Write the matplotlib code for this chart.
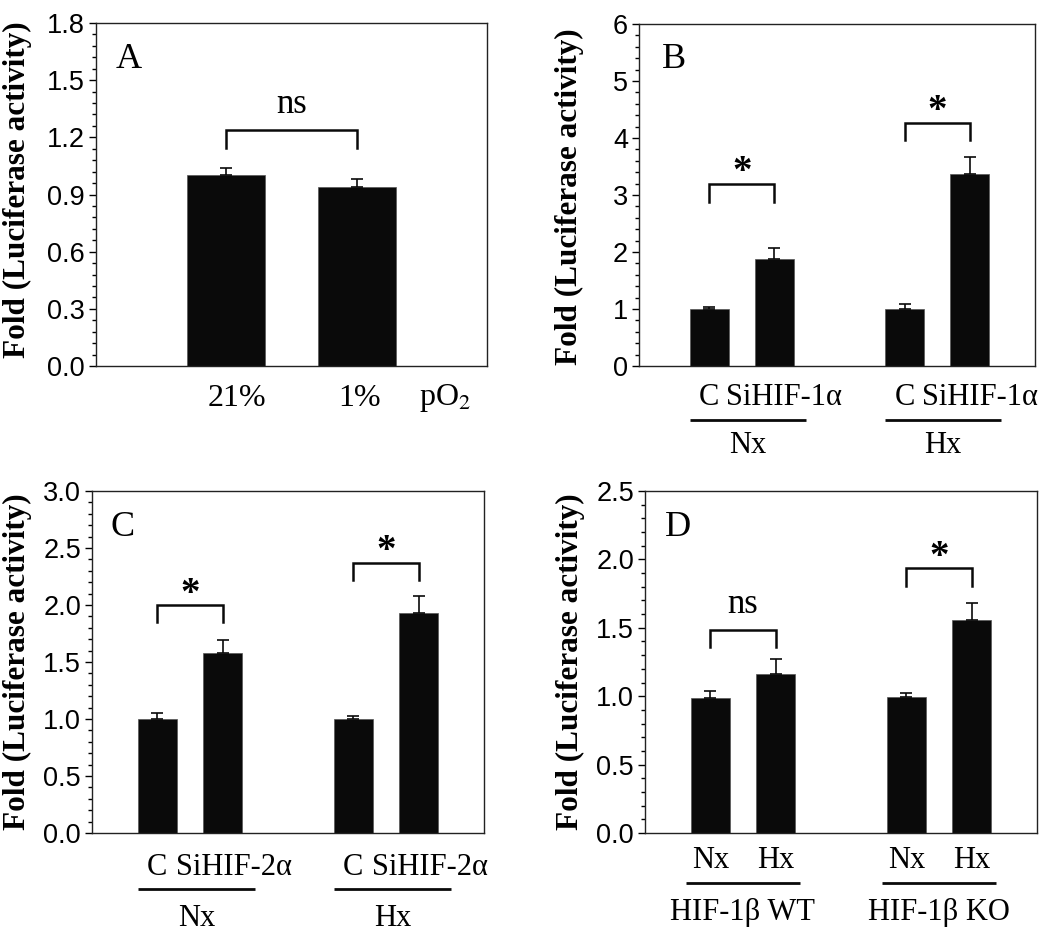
import matplotlib
matplotlib.use("Agg")
import matplotlib.pyplot as plt
from matplotlib.ticker import MultipleLocator

plt.rcParams['mathtext.fontset'] = 'stix'

# ---------------- data ----------------
a_labels = ["21%", "1%"]
a_vals = [1.00, 0.94]
a_err = [0.037, 0.04]

b_vals = [1.00, 1.88, 1.00, 3.36]
b_err = [0.04, 0.19, 0.08, 0.31]
b_tick = ["C", "SiHIF-1α", "C", "SiHIF-1α"]
b_groups = ["Nx", "Hx"]

c_vals = [1.00, 1.58, 1.00, 1.93]
c_err = [0.057, 0.11, 0.03, 0.15]
c_tick = ["C", "SiHIF-2α", "C", "SiHIF-2α"]
c_groups = ["Nx", "Hx"]

d_vals = [0.99, 1.163, 0.995, 1.557]
d_err = [0.05, 0.107, 0.031, 0.126]
d_tick = ["Nx", "Hx", "Nx", "Hx"]
d_groups = ["HIF-1β WT", "HIF-1β KO"]

# significance brackets: (left bar idx, right bar idx, bracket y, leg bottom y, label)
a_sig = [(0, 1, 1.24, 1.145, "ns")]
b_sig = [(0, 1, 3.20, 2.88, "*"), (2, 3, 4.27, 3.96, "*")]
c_sig = [(0, 1, 2.00, 1.85, "*"), (2, 3, 2.37, 2.22, "*")]
d_sig = [(0, 1, 1.485, 1.36, "ns"), (2, 3, 1.935, 1.805, "*")]

W, H = 1050, 947
fig = plt.figure(figsize=(W / 100, H / 100), dpi=100)

SERIF = "Liberation Serif"
SANS = "Liberation Sans"
BAR = "#0a0a0a"


def make_ax(l, r, t, b):
    return fig.add_axes([l / W, 1 - b / H, (r - l) / W, (b - t) / H])


def style(ax, ymax, major, minor, fmt):
    ax.set_ylim(0, ymax)
    ax.yaxis.set_major_locator(MultipleLocator(major))
    ax.yaxis.set_minor_locator(MultipleLocator(minor))
    ax.yaxis.set_major_formatter(plt.FormatStrFormatter(fmt))
    ax.tick_params(axis='y', which='major', direction='out', length=5, width=1,
                   labelsize=19.5, pad=3, right=False)
    ax.tick_params(axis='y', which='minor', direction='out', length=3, width=1, right=False)
    for lab in ax.get_yticklabels():
        lab.set_fontfamily(SANS)
    ax.set_xticks([])
    for s in ax.spines.values():
        s.set_linewidth(1.0)
        s.set_color("#222222")


def bars(ax, pos, vals, errs):
    ax.bar(pos, vals, width=0.6, color=BAR, edgecolor="#555555", linewidth=0.5, zorder=2)
    ax.errorbar(pos, vals, yerr=[[0] * len(vals), errs], fmt='none', ecolor=BAR,
                elinewidth=1.2, capsize=4, capthick=1.2, zorder=3)


def sig(ax, pos, sigs):
    ymax = ax.get_ylim()[1]
    hpx = ax.get_window_extent().height
    px = ymax / hpx
    for i, j, y, yb, lab in sigs:
        ax.plot([pos[i], pos[i], pos[j], pos[j]], [yb, y, y, yb], color=BAR,
                lw=1.8, solid_joinstyle='miter', zorder=3)
        if lab == "*":
            ax.text((pos[i] + pos[j]) / 2, y + 1.5 * px, "*", ha='center', va='baseline',
                    fontsize=28, family=SERIF, fontweight='bold', zorder=4)
        else:
            ax.text((pos[i] + pos[j]) / 2, y + 17 * px, lab, ha='center', va='baseline',
                    fontsize=25, family=SERIF, zorder=4)


def letter(ax, s, x, y):
    ax.text(x, y, s, transform=ax.transAxes, fontsize=26, family=SERIF,
            ha='left', va='baseline')


def ylab(x, y):
    fig.text(x / W, 1 - y / H, "Fold (Luciferase activity)", rotation=90,
             ha='center', va='center', fontsize=22.5, family=SERIF, fontweight='bold')


def lower_labels(ax, pos, ticks, groups, off, tick_dy, line_dy, grp_dy, line_ext):
    tr = ax.get_xaxis_transform()
    hpx = ax.get_window_extent().height
    for p, t, o in zip(pos, ticks, off):
        ax.text(p + o, -tick_dy / hpx, t, transform=tr, ha='center', va='center',
                fontsize=22, family=SERIF, clip_on=False)
    for g, (i, j) in zip(groups, [(0, 1), (2, 3)]):
        x0 = pos[i] - line_ext[0]
        x1 = pos[j] + line_ext[1]
        ax.plot([x0, x1], [-line_dy / hpx] * 2, transform=tr, color=BAR, lw=2.0,
                clip_on=False, solid_capstyle='butt')
        ax.text((x0 + x1) / 2, -grp_dy / hpx, g, transform=tr, ha='center', va='center',
                fontsize=22, family=SERIF, clip_on=False)


# ---------------- Panel A ----------------
axA = make_ax(96, 487, 23, 366)
posA = [1, 2]
bars(axA, posA, a_vals, a_err)
axA.set_xlim(0, 3)
style(axA, 1.8, 0.3, 0.06, "%.1f")
sig(axA, posA, a_sig)
letter(axA, "A", 0.049, 0.868)
trA = axA.get_xaxis_transform()
hA = axA.get_window_extent().height
axA.text(1.08, -32 / hA, a_labels[0], transform=trA, ha='center', va='center',
         fontsize=23, family=SERIF, clip_on=False)
axA.text(2.02, -32 / hA, a_labels[1], transform=trA, ha='center', va='center',
         fontsize=23, family=SERIF, clip_on=False)
axA.text(2.68, -32 / hA, "pO$_2$", transform=trA, ha='center', va='center',
         fontsize=23, family=SERIF, clip_on=False)
ylab(17, 190)

# ---------------- Panel B ----------------
axB = make_ax(639, 1035, 24, 366)
pos4 = [1, 2, 4, 5]
bars(axB, pos4, b_vals, b_err)
axB.set_xlim(-0.08, 6)
style(axB, 6, 1, 0.2, "%d")
sig(axB, pos4, b_sig)
letter(axB, "B", 0.058, 0.870)
lower_labels(axB, pos4, b_tick, b_groups, [0, 0.15, 0, 0.15], 31, 54, 79, (0.3, 0.48))
ylab(569, 197)

# ---------------- Panel C ----------------
axC = make_ax(92, 484, 491, 833)
bars(axC, pos4, c_vals, c_err)
axC.set_xlim(0, 6)
style(axC, 3.0, 0.5, 0.1, "%.1f")
sig(axC, pos4, c_sig)
letter(axC, "C", 0.046, 0.869)
lower_labels(axC, pos4, c_tick, c_groups, [0, 0.17, 0, 0.17], 34, 56, 85, (0.3, 0.5))
ylab(17, 662)

# ---------------- Panel D ----------------
axD = make_ax(645, 1037, 491, 833)
bars(axD, pos4, d_vals, d_err)
axD.set_xlim(0, 6)
style(axD, 2.5, 0.5, 0.1, "%.1f")
sig(axD, pos4, d_sig)
letter(axD, "D", 0.051, 0.869)
lower_labels(axD, pos4, d_tick, d_groups, [0, 0, 0, 0], 27, 50, 79, (0.38, 0.38))
ylab(570, 662)

fig.savefig("out.png", dpi=100)
